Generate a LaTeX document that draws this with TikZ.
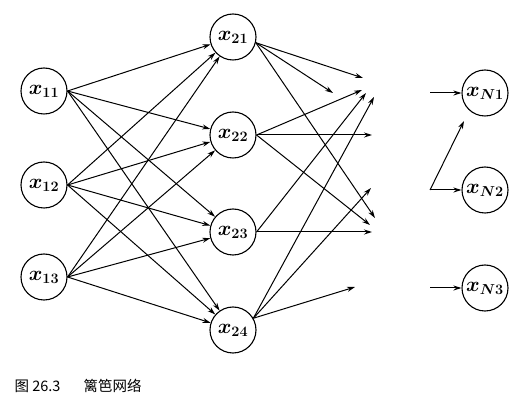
\documentclass[tikz,border=0pt]{standalone}
\usepackage{fontspec}
\newfontfamily\cjk{Noto Sans CJK SC}
\usetikzlibrary{arrows.meta}

\begin{document}
\begin{tikzpicture}[
    x=1pt, y=-1pt,
    unit/.style={circle, draw, line width=1.1pt, minimum size=46pt, inner sep=0pt, font=\boldmath\fontsize{22}{24}\selectfont},
    arrow/.style={-{Stealth[length=8pt,width=5pt]}, line width=1pt}
]
\useasboundingbox (0,0) rectangle (528,403);

% Input layer
\node[unit] (x11) at (44,91) {$x_{11}$};
\node[unit] (x12) at (44,185) {$x_{12}$};
\node[unit] (x13) at (44,277) {$x_{13}$};

% Hidden layer
\node[unit] (x21) at (233,37) {$x_{21}$};
\node[unit] (x22) at (233,135) {$x_{22}$};
\node[unit] (x23) at (233,232) {$x_{23}$};
\node[unit] (x24) at (233,330) {$x_{24}$};

% Output layer
\node[unit] (xN1) at (485,93) {$x_{N1}$};
\node[unit] (xN2) at (485,190) {$x_{N2}$};
\node[unit] (xN3) at (485,288) {$x_{N3}$};

% Loose ends
\coordinate (a1) at (363,78);
\coordinate (a2) at (333,93);
\coordinate (a3) at (375,218);
\coordinate (b1) at (362,90);
\coordinate (b2) at (372,135);
\coordinate (b3) at (370,225);
\coordinate (c1) at (366,93);
\coordinate (c2) at (372,232);
\coordinate (d1) at (374,97);
\coordinate (d2) at (371,188);
\coordinate (d3) at (355,287);
\coordinate (e1) at (430,93);
\coordinate (e2) at (430,190);
\coordinate (e3) at (430,288);
\coordinate (f) at (464,121);

% Input to hidden
\foreach \i in {11,12,13}
  \foreach \j in {21,22,23,24}
    \draw[arrow] (x\i.east) -- (x\j);

% Hidden to next stage
\draw[arrow] (x21.-14) -- (a1);
\draw[arrow] (x21.-14) -- (a2);
\draw[arrow] (x21.-14) -- (a3);
\draw[arrow] (x22.east) -- (b1);
\draw[arrow] (x22.east) -- (b2);
\draw[arrow] (x22.east) -- (b3);
\draw[arrow] (x23.east) -- (c1);
\draw[arrow] (x23.east) -- (c2);
\draw[arrow] (x24.30) -- (d1);
\draw[arrow] (x24.30) -- (d2);
\draw[arrow] (x24.30) -- (d3);

% Into output layer
\draw[arrow] (e1) -- (xN1);
\draw[arrow] (e2) -- (xN2);
\draw[arrow] (e2) -- (f);
\draw[arrow] (e3) -- (xN3);

% Caption
\node[anchor=west, font=\cjk\fontsize{14.5}{16}\selectfont] (caption) at (11,386) {图 26.3\hspace{1.6em}篱笆网络};
\end{tikzpicture}
\end{document}
